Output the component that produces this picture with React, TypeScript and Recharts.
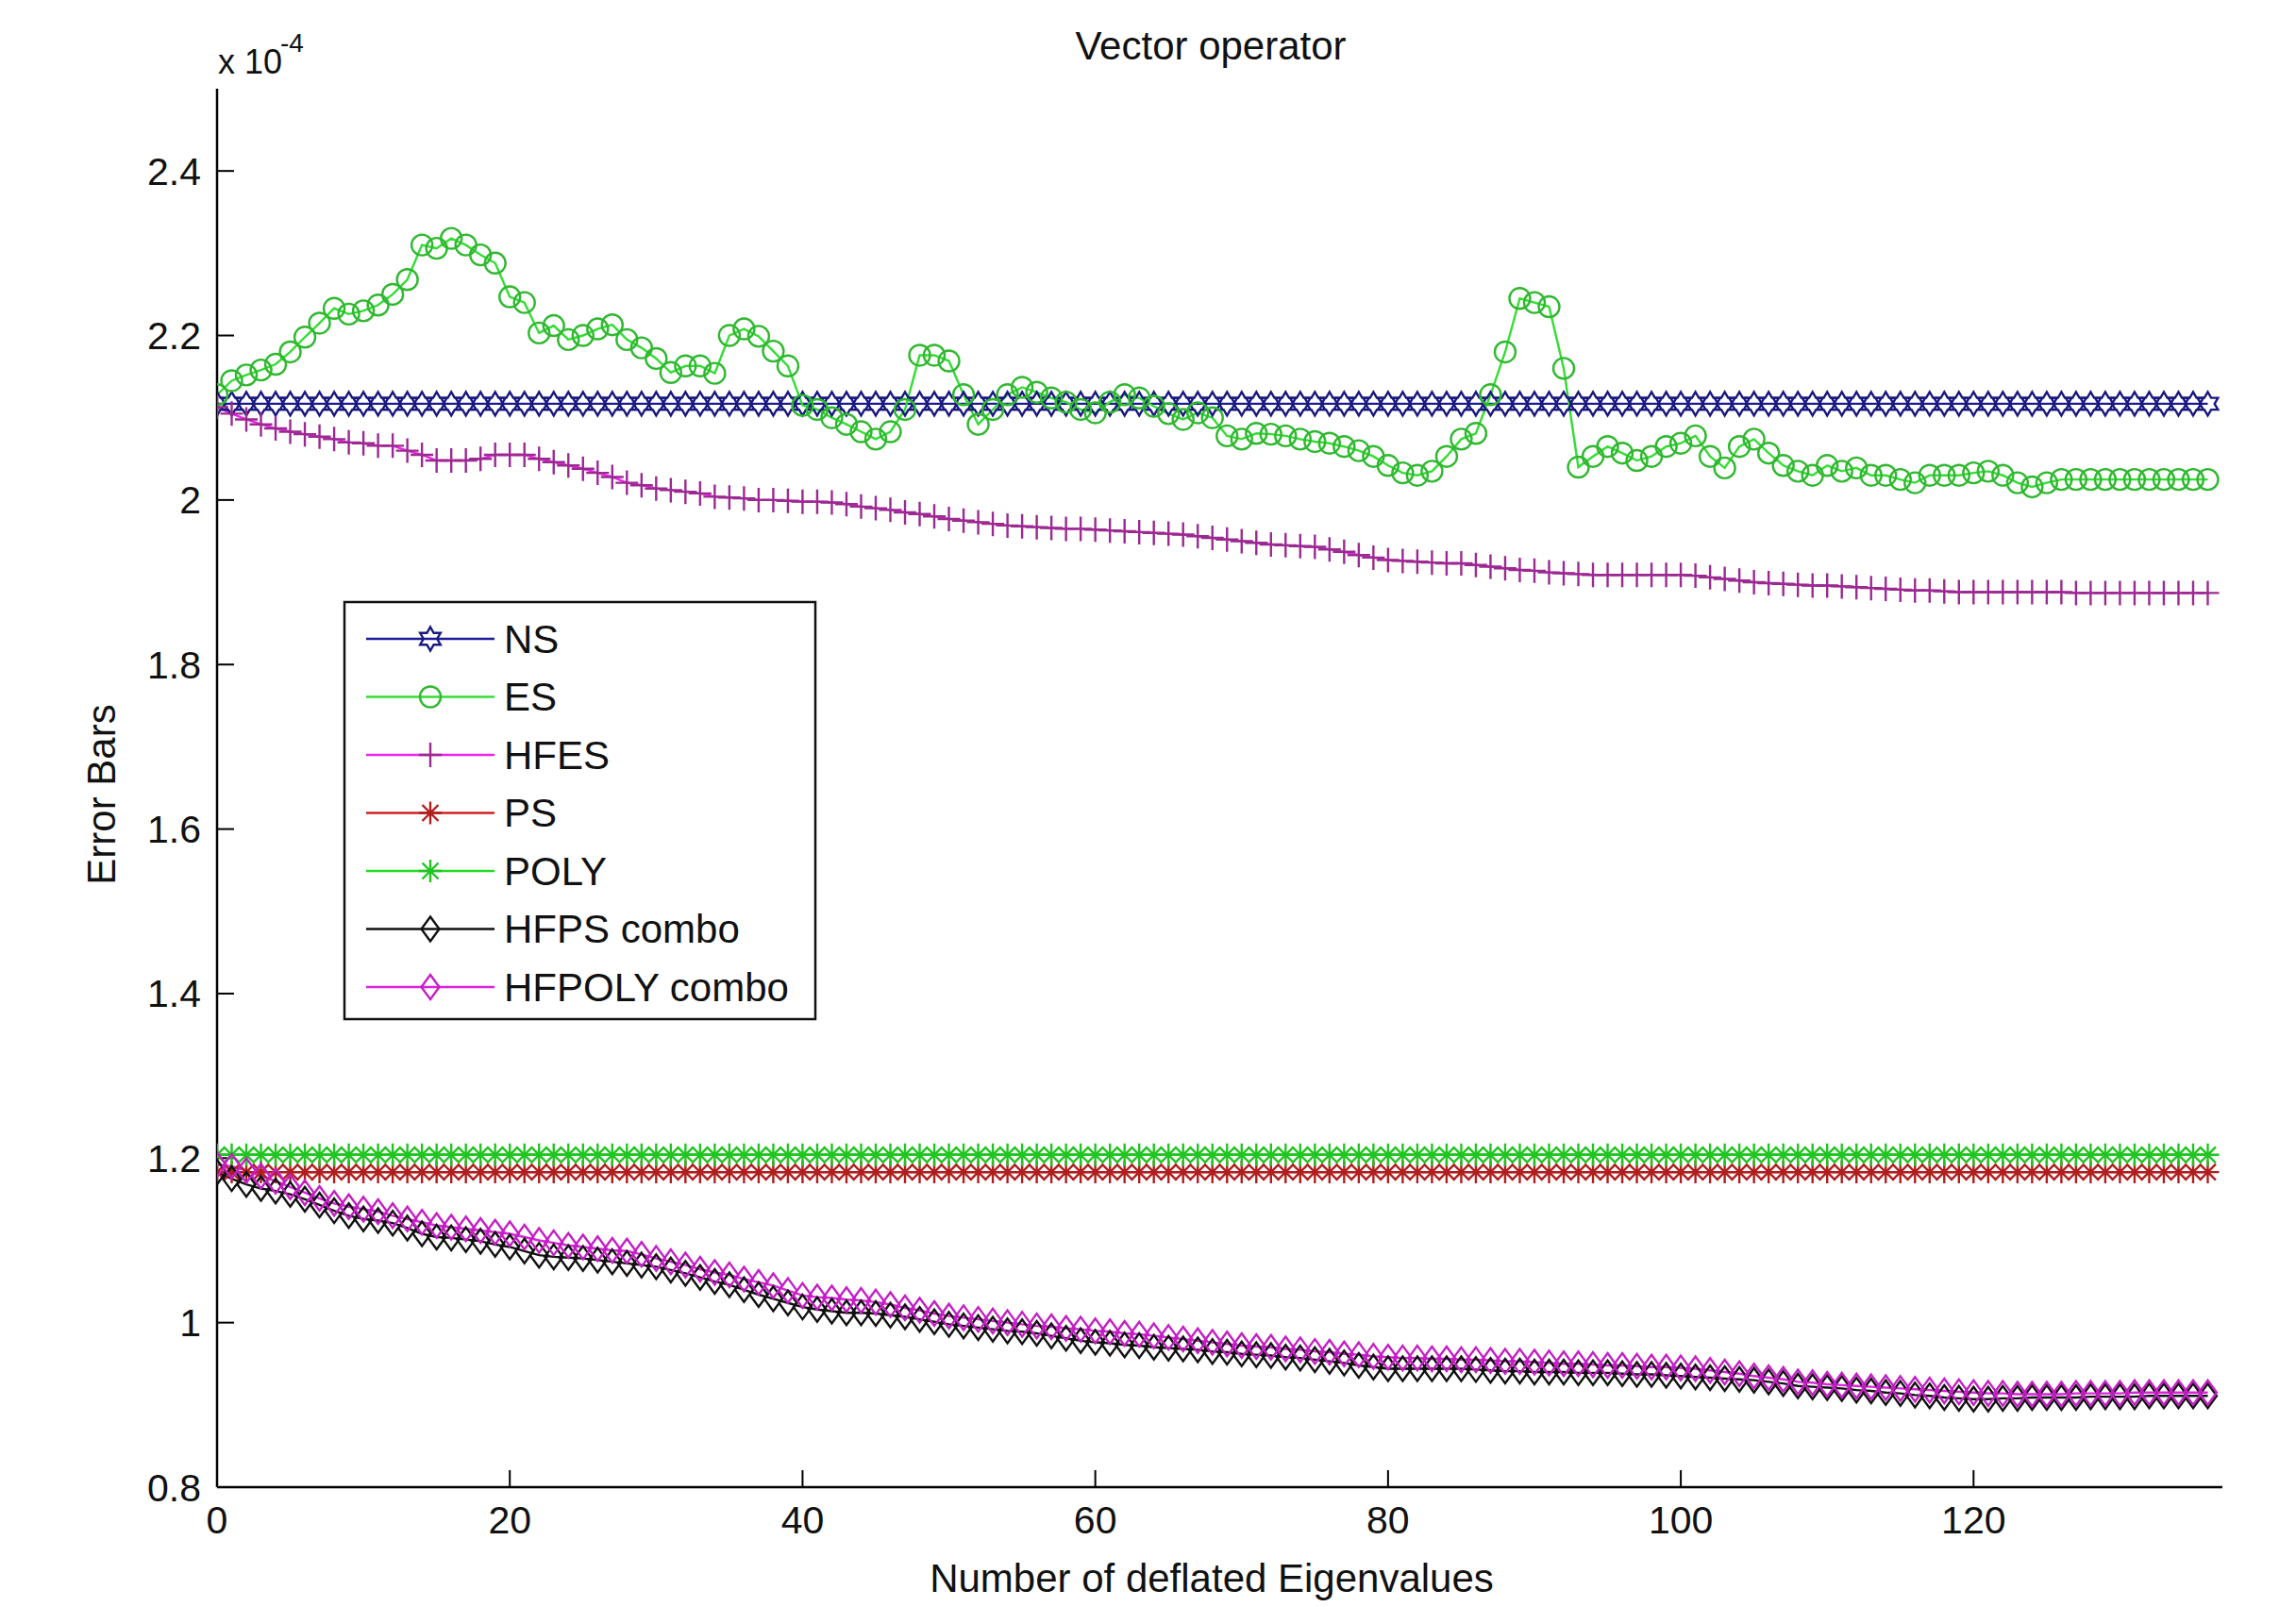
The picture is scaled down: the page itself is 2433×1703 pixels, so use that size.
import React from 'react';
import { LineChart, Line, XAxis, YAxis } from 'recharts';

// x positions: number of deflated eigenvalues, 0..136
const xValues = Array.from({ length: 137 }, (_, i) => i);

const xTicks = [0, 20, 40, 60, 80, 100, 120];
const yTicks = [0.8, 1, 1.2, 1.4, 1.6, 1.8, 2, 2.2, 2.4];

// flat series (values in units of 1e-4)
const nsLevel = 2.117;
const psLevel = 1.183;
const polyLevel = 1.204;

const esValues = [
  2.128, 2.145, 2.152, 2.158, 2.165, 2.18, 2.198, 2.215, 2.233, 2.226,
  2.23, 2.237, 2.25, 2.268, 2.31, 2.306, 2.318, 2.31, 2.298, 2.288,
  2.247, 2.24, 2.203, 2.212, 2.195, 2.2, 2.208, 2.213, 2.195, 2.185,
  2.172, 2.155, 2.163, 2.163, 2.154, 2.2, 2.208, 2.199, 2.181, 2.163,
  2.115, 2.11, 2.1, 2.092, 2.083, 2.074, 2.083, 2.11, 2.176, 2.176,
  2.169, 2.128, 2.092, 2.11, 2.128, 2.137, 2.131, 2.124, 2.119, 2.11,
  2.106, 2.119, 2.128, 2.124, 2.114, 2.105, 2.098, 2.106, 2.1, 2.078,
  2.074, 2.081, 2.08, 2.078, 2.074, 2.071, 2.069, 2.065, 2.06, 2.053,
  2.042, 2.033, 2.03, 2.035, 2.053, 2.074, 2.081, 2.128, 2.18, 2.245,
  2.24, 2.235, 2.16, 2.04, 2.053, 2.065, 2.057, 2.048, 2.053, 2.065,
  2.069, 2.078, 2.053, 2.039, 2.065, 2.074, 2.057, 2.042, 2.035, 2.03,
  2.042, 2.035, 2.039, 2.03, 2.03, 2.025, 2.021, 2.03, 2.03, 2.03,
  2.033, 2.035, 2.03, 2.021, 2.016, 2.021, 2.025, 2.025, 2.025, 2.025,
  2.025, 2.025, 2.025, 2.025, 2.025, 2.025, 2.025,
];

const hfesValues = [
  2.113, 2.105, 2.098, 2.092, 2.087, 2.083, 2.08, 2.077, 2.074, 2.07,
  2.069, 2.066, 2.066, 2.06, 2.055, 2.048, 2.048, 2.048, 2.05, 2.055,
  2.055, 2.055, 2.05, 2.046, 2.042, 2.038, 2.033, 2.028, 2.021, 2.018,
  2.014, 2.012, 2.01, 2.008, 2.004, 2.003, 2.002, 2.0, 2.0, 1.999,
  1.998, 1.998, 1.997, 1.995, 1.992, 1.99, 1.988, 1.985, 1.983, 1.98,
  1.977, 1.975, 1.973, 1.971, 1.969, 1.968, 1.967, 1.966, 1.965, 1.965,
  1.964, 1.963, 1.962, 1.961, 1.96, 1.959, 1.958, 1.956, 1.954, 1.952,
  1.95, 1.948, 1.946, 1.945, 1.944, 1.943, 1.94, 1.937, 1.933, 1.93,
  1.927, 1.926, 1.925, 1.924, 1.923, 1.923, 1.921, 1.919, 1.917, 1.915,
  1.914, 1.912, 1.911, 1.91, 1.909, 1.909, 1.909, 1.909, 1.909, 1.909,
  1.909, 1.908, 1.906, 1.904, 1.902, 1.9, 1.899, 1.898, 1.897, 1.896,
  1.896, 1.895, 1.894, 1.893, 1.892, 1.891, 1.89, 1.89, 1.889, 1.888,
  1.888, 1.888, 1.888, 1.888, 1.888, 1.888, 1.888, 1.887, 1.887, 1.887,
  1.887, 1.887, 1.887, 1.887, 1.887, 1.887, 1.887,
];

const hfpsValues = [
  1.183, 1.175, 1.168, 1.163, 1.16, 1.156, 1.15, 1.143, 1.136, 1.13,
  1.126, 1.124, 1.121, 1.115, 1.108, 1.104, 1.103, 1.101, 1.099, 1.095,
  1.092, 1.087, 1.082, 1.08, 1.079, 1.078, 1.076, 1.074, 1.072, 1.07,
  1.068, 1.064, 1.06, 1.055, 1.05, 1.046, 1.04, 1.034, 1.029, 1.024,
  1.019, 1.016, 1.014, 1.012, 1.012, 1.011, 1.009, 1.007, 1.004, 1.001,
  0.998, 0.996, 0.994, 0.992, 0.99, 0.989, 0.987, 0.984, 0.981, 0.978,
  0.976, 0.975, 0.973, 0.972, 0.97, 0.969, 0.968, 0.967, 0.965, 0.964,
  0.962, 0.961, 0.96, 0.958, 0.957, 0.955, 0.953, 0.951, 0.948, 0.946,
  0.944, 0.944, 0.944, 0.944, 0.944, 0.944, 0.943, 0.942, 0.941, 0.941,
  0.94, 0.94, 0.94, 0.939, 0.939, 0.939, 0.938, 0.937, 0.937, 0.936,
  0.935, 0.934, 0.933, 0.932, 0.931, 0.93, 0.928, 0.926, 0.923, 0.922,
  0.921, 0.92, 0.918, 0.917, 0.915, 0.914, 0.912, 0.911, 0.909, 0.908,
  0.907, 0.907, 0.908, 0.908, 0.909, 0.909, 0.909, 0.909, 0.91, 0.91,
  0.91, 0.91, 0.911, 0.911, 0.911, 0.911, 0.911,
];

const hfpolyValues = [
  1.192, 1.19, 1.185, 1.178, 1.172, 1.165, 1.158, 1.151, 1.145, 1.141,
  1.138, 1.135, 1.13, 1.126, 1.122, 1.118, 1.116, 1.114, 1.112, 1.11,
  1.108, 1.104, 1.1, 1.097, 1.094, 1.092, 1.09, 1.088, 1.087, 1.083,
  1.078, 1.074, 1.07, 1.065, 1.061, 1.058, 1.053, 1.049, 1.045, 1.039,
  1.033, 1.031, 1.03, 1.028, 1.027, 1.025, 1.022, 1.018, 1.015, 1.011,
  1.008, 1.006, 1.004, 1.002, 1.0, 0.998, 0.996, 0.995, 0.993, 0.992,
  0.99, 0.989, 0.987, 0.986, 0.984, 0.982, 0.98, 0.978, 0.976, 0.974,
  0.972, 0.971, 0.97, 0.968, 0.967, 0.965, 0.964, 0.962, 0.961, 0.959,
  0.958, 0.957, 0.957, 0.956, 0.956, 0.955, 0.955, 0.954, 0.953, 0.953,
  0.952, 0.951, 0.95, 0.95, 0.949, 0.948, 0.948, 0.947, 0.946, 0.946,
  0.945, 0.944, 0.942, 0.94, 0.938, 0.935, 0.933, 0.931, 0.928, 0.927,
  0.925, 0.924, 0.923, 0.922, 0.921, 0.92, 0.919, 0.918, 0.917, 0.916,
  0.915, 0.914, 0.914, 0.913, 0.913, 0.913, 0.913, 0.914, 0.914, 0.914,
  0.914, 0.915, 0.915, 0.915, 0.915, 0.915, 0.915,
];

const FONT = '"Liberation Sans", Arial, Helvetica, sans-serif';

type Shape = 'hexagram' | 'circle' | 'plus' | 'star' | 'diamond';

const series: { key: string; name: string; shape: Shape; line: string; mark: string }[] = [
  { key: 'ns', name: 'NS', shape: 'hexagram', line: '#1c1c96', mark: '#18187e' },
  { key: 'es', name: 'ES', shape: 'circle', line: '#33dd33', mark: '#30b830' },
  { key: 'hfes', name: 'HFES', shape: 'plus', line: '#ee22ee', mark: '#9a2a90' },
  { key: 'ps', name: 'PS', shape: 'star', line: '#cc2222', mark: '#b01e1e' },
  { key: 'poly', name: 'POLY', shape: 'star', line: '#22dd22', mark: '#22c422' },
  { key: 'hfps', name: 'HFPS combo', shape: 'diamond', line: '#111111', mark: '#111111' },
  { key: 'hfpoly', name: 'HFPOLY combo', shape: 'diamond', line: '#dd22dd', mark: '#c41fc4' },
];

const data = xValues.map((x, i) => ({
  x,
  ns: nsLevel,
  es: esValues[i],
  hfes: hfesValues[i],
  ps: psLevel,
  poly: polyLevel,
  hfps: hfpsValues[i],
  hfpoly: hfpolyValues[i],
}));

function markerPath(shape: Shape, cx: number, cy: number) {
  switch (shape) {
    case 'plus':
      return `M${cx - 12},${cy}H${cx + 12}M${cx},${cy - 13}V${cy + 13}`;
    case 'star': {
      const d = 8.5;
      return `M${cx - 12},${cy}H${cx + 12}M${cx},${cy - 12}V${cy + 12}` +
        `M${cx - d},${cy - d}L${cx + d},${cy + d}M${cx - d},${cy + d}L${cx + d},${cy - d}`;
    }
    case 'diamond':
      return `M${cx},${cy - 13}L${cx + 9.5},${cy}L${cx},${cy + 13}L${cx - 9.5},${cy}Z`;
    case 'hexagram': {
      const R = 12.5;
      const r = R / Math.sqrt(3);
      const pts: string[] = [];
      for (let k = 0; k < 12; k++) {
        const a = -Math.PI / 2 + (k * Math.PI) / 6;
        const rad = k % 2 === 0 ? R : r;
        pts.push(`${(cx + rad * Math.cos(a)).toFixed(2)},${(cy + rad * Math.sin(a)).toFixed(2)}`);
      }
      return `M${pts.join('L')}Z`;
    }
    default:
      return '';
  }
}

function Marker({ shape, cx, cy, color }: { shape: Shape; cx: number; cy: number; color: string }) {
  if (shape === 'circle') {
    return <circle cx={cx} cy={cy} r={11} fill="none" stroke={color} strokeWidth={2.4} />;
  }
  return <path d={markerPath(shape, cx, cy)} fill="none" stroke={color} strokeWidth={2.4} />;
}

const makeDot = (shape: Shape, color: string, key: string) => (props: any) => {
  const { cx, cy, index } = props;
  if (cx == null || cy == null) return <g key={`${key}-${index}`} />;
  return (
    <g key={`${key}-${index}`}>
      <Marker shape={shape} cx={cx} cy={cy} color={color} />
    </g>
  );
};

const W = 2433;
const H = 1703;

export default function App() {
  const legendTop = 677;
  const legendStep = 61.5;

  return (
    <div style={{ position: 'fixed', left: 0, top: 0, width: W, height: H, background: '#fff', overflow: 'hidden' }}>
      <LineChart
        width={W}
        height={H}
        data={data}
        margin={{ top: 94, right: 78, left: 0, bottom: 0 }}
      >
        <XAxis
          dataKey="x"
          type="number"
          domain={[0, 137]}
          ticks={xTicks}
          interval={0}
          height={127}
          tickSize={-18}
          tickMargin={38}
          axisLine={{ stroke: '#000', strokeWidth: 2.5 }}
          tickLine={{ stroke: '#000', strokeWidth: 2 }}
          tick={{ fontSize: 41, fill: '#111', fontFamily: FONT }}
          allowDataOverflow
        />
        <YAxis
          type="number"
          domain={[0.8, 2.5]}
          ticks={yTicks}
          interval={0}
          width={230}
          tickSize={-18}
          tickMargin={35}
          axisLine={{ stroke: '#000', strokeWidth: 2.5 }}
          tickLine={{ stroke: '#000', strokeWidth: 2 }}
          tick={{ fontSize: 41, fill: '#111', fontFamily: FONT }}
          allowDataOverflow
        />
        {series.map((s) => (
          <Line
            key={s.key}
            type="linear"
            dataKey={s.key}
            name={s.name}
            stroke={s.line}
            strokeWidth={2.4}
            dot={makeDot(s.shape, s.mark, s.key)}
            activeDot={false}
            isAnimationActive={false}
          />
        ))}
      </LineChart>

      <svg
        width={W}
        height={H}
        style={{ position: 'absolute', left: 0, top: 0, pointerEvents: 'none' }}
        fontFamily={FONT}
      >
        <text x={1283} y={63} fontSize={42} textAnchor="middle" fill="#111">Vector operator</text>
        <text x={231} y={78} fontSize={36} fill="#111">x 10</text>
        <text x={297} y={55} fontSize={28} fill="#111">-4</text>
        <text
          x={107}
          y={842}
          fontSize={42}
          textAnchor="middle"
          dominantBaseline="central"
          fill="#111"
          transform="rotate(-90 107 842)"
        >
          Error Bars
        </text>
        <text x={1284} y={1687} fontSize={42} textAnchor="middle" fill="#111">
          Number of deflated Eigenvalues
        </text>

        <rect x={365} y={638} width={499} height={442} fill="#fff" stroke="#111" strokeWidth={2.5} />
        {series.map((s, i) => {
          const y = legendTop + i * legendStep;
          return (
            <g key={s.key}>
              <line x1={388} x2={524} y1={y} y2={y} stroke={s.line} strokeWidth={2.4} />
              <Marker shape={s.shape} cx={456} cy={y} color={s.mark} />
              <text x={534} y={y} fontSize={42} dominantBaseline="central" fill="#111">{s.name}</text>
            </g>
          );
        })}
      </svg>
    </div>
  );
}
